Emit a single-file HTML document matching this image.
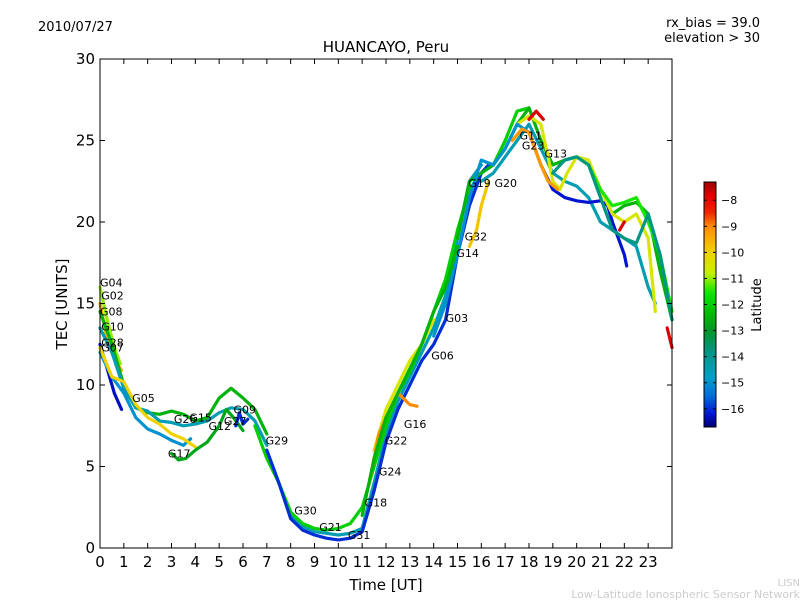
<!DOCTYPE html>
<html><head><meta charset="utf-8"><style>
body{margin:0;background:#fff;}
svg{display:block;font-family:"DejaVu Sans","Liberation Sans",sans-serif;}
</style></head><body>
<svg id="c" width="800" height="600" viewBox="0 0 800 600">
<rect width="800" height="600" fill="#fff"/>
<text x="38" y="31" font-size="13">2010/07/27</text>
<text x="760" y="27" font-size="13" text-anchor="end">rx_bias = 39.0</text>
<text x="760" y="42" font-size="13" text-anchor="end">elevation &gt; 30</text>
<text x="386" y="52" font-size="15" text-anchor="middle">HUANCAYO, Peru</text>
<g id="plot"></g>
<rect x="100" y="59" width="572" height="489" fill="none" stroke="#000" stroke-width="1"/>
<g id="axes"></g>
<text x="386" y="590" font-size="15" text-anchor="middle">Time [UT]</text>
<text x="67" y="304" font-size="15" text-anchor="middle" transform="rotate(-90 67 304)">TEC [UNITS]</text>
<g id="cbar"></g>
<text x="761" y="305" font-size="13" text-anchor="middle" transform="rotate(-90 761 305)">Latitude</text>
<text x="800" y="586" font-size="10" fill="#ccc" text-anchor="end">LISN</text>
<text x="800" y="598" font-size="11" fill="#ccc" text-anchor="end">Low-Latitude Ionospheric Sensor Network</text>
</svg>
<script>
const xTicks=[0,1,2,3,4,5,6,7,8,9,10,11,12,13,14,15,16,17,18,19,20,21,22,23];
const yTicks=[0,5,10,15,20,25,30];
const cbTicks=[-8,-9,-10,-11,-12,-13,-14,-15,-16];
const trackNames=["G04","G02","G08","G10","G07","G28","Y1","G17","A","B","C","D","D2","E","F","G","H","I","J1","J2","J3","K","G09b","L","M","N","O"];
const trackLats=[-11,-9.5,-12.5,-14.5,-16.3,-15,-10,-12.7,-14.5,-12,-16,-10.5,-9.8,-9,-12.5,-14.5,-16.2,-10.5,-7.8,-7.8,-7.8,-11.5,-16,-15,-12.5,-13.8,-9.2];
const trackTimes=[
[0,0.3,0.6,0.85],
[0,0.3,0.6,0.9],
[0,0.5,1,1.5,2,2.5,3,3.5,4,4.5,5,5.5,6,6.5,7],
[0,0.5,1,1.5,2,2.5,3,3.5,4,4.5,5,5.5,6,6.5,7],
[0,0.3,0.6,0.9],
[0,0.5,1,1.5,2,2.5,3,3.5,3.8],
[0,0.5,1,1.5,2,2.5,3,3.5,4],
[3,3.3,3.6,4,4.5,5,5.3,5.6,6],
[7,7.5,8,8.5,9,9.5,10,10.5,11,11.5,12,12.5,13,13.5,14,14.5,15,15.5,16],
[6.5,7,7.5,8,8.5,9,9.5,10,10.5,11,11.5,12,12.5,13,13.5,14,14.5,15,15.5,16,16.5,17,17.5,18],
[7,7.5,8,8.5,9,9.5,10,10.5,11,11.5,12,12.5,13,13.5,14,14.5,15,15.5,16,16.3],
[11.5,12,12.5,13,13.5,14],
[15.5,15.8,16,16.3],
[11.3,11.7,12,12.5,13,13.3],
[15,15.5,16,16.5,17,17.5,18,18.5,19,19.5,20,20.5,21,21.5,22,22.5,23,23.5,24],
[16,16.5,17,17.5,18,18.5,19,19.5,20,20.5,21,21.5,22,22.5,23,23.3],
[18,18.5,19,19.5,20,20.5,21,21.3,21.5,22,22.1],
[17.5,18,18.5,18.8,19,19.3,19.6,20,20.5,21,21.5,22,22.5,23,23.3],
[18,18.3,18.6],
[23.8,24],
[21.8,22],
[20.5,21,21.5,22,22.5,23,23.5,24],
[5.7,5.85,6,6.2],
[14,14.5,15,15.5,16,16.5,17,17.5,18],
[11,11.5,12,12.5,13,13.5,14,14.5,15],
[19,19.5,20,20.5,21,21.5,22,22.5,23,23.5,24],
[17.3,17.7,18,18.5,18.8,19.2]
];
const trackTec=[
[16,14,12.3,11.3],
[15,12.8,11.6,10.9],
[14.5,12.5,10,8.6,8.3,8.2,8.4,8.2,7.8,8,9.2,9.8,9.2,8.5,7],
[13.5,12,9.8,8.6,8.4,7.8,7.7,7.5,7.6,7.8,8.3,8.6,8.5,7.8,6.3],
[12.5,11,9.5,8.5],
[12,10.5,9.5,8,7.3,7,6.6,6.3,6.7],
[12.3,10.5,10.2,8.8,8,7.6,7,6.7,6.2],
[5.8,5.4,5.5,6,6.5,7.5,8.5,8,7.2],
[6,4,2,1.3,1,0.9,0.8,0.9,1.2,4,7,9,10.5,12,13.5,15.5,19,22.5,23.5],
[7.5,5.5,4,2.2,1.5,1.2,1.1,1.2,1.5,2.5,5,7.5,9.5,10.8,12.5,14.5,16.5,19.5,22,23,23.5,25,26.8,27],
[6,4,1.8,1.1,0.8,0.6,0.5,0.6,1,3.5,6.5,8.5,10,11.5,12.5,14,18,21,23,23.5],
[6,8.5,10,11.5,12.5,14],
[18.5,19.5,21,22.5],
[4,7,8,9.5,8.8,8.7],
[19,22.5,23,23.5,24.5,26,27,25,23.5,23.8,24,23.5,22,20.5,21,21.2,20.5,17,14],
[22.5,23,24,25,26,24.5,23,22.5,22.2,21.5,20,19.5,19,18.5,16,15],
[25.5,23.5,22,21.5,21.3,21.2,21.3,21,20,18,17.3],
[26,26.5,26,24,22.5,22,23,24,23.8,22,20.5,20,20.5,19,14.5],
[26.3,26.8,26.3],
[13.5,12.3],
[19.5,20],
[23.5,22,21,21.2,21.5,20,18,14.5],
[7.5,8.3,7.6,7.9],
[13,15,18,21.5,23.8,23.5,24.5,26,25.5],
[2,5.5,8,9.5,11,12.5,14.5,16,18.5],
[23,23.8,24,23.5,21.5,19.5,19,18.7,20.5,18,14],
[25,25.7,25.5,23.5,22.5,22]
];
const labelNames=["G04","G02","G08","G10","G28","G07","G05","G26","G15","G12","G27","G09","G29","G17","G30","G21","G31","G18","G24","G22","G16","G06","G03","G14","G32","G19","G20","G11","G23","G13"];
const labelT=[0,0.05,0,0.05,0.05,0.05,1.35,3.1,3.75,4.55,5.2,5.6,6.95,2.85,8.15,9.2,10.4,11.1,11.7,11.95,12.75,13.9,14.5,14.95,15.3,15.45,16.55,17.6,17.7,18.65];
const labelTec=[16.3,15.5,14.5,13.6,12.6,12.3,9.2,7.9,8.0,7.5,7.8,8.5,6.6,5.8,2.3,1.3,0.8,2.8,4.7,6.6,7.6,11.8,14.1,18.1,19.1,22.4,22.4,25.3,24.7,24.2];

const ns="http://www.w3.org/2000/svg";
const X0=100,X1=672,Y0=548,Y1=59;
function xs(t){return X0+(X1-X0)*t/24;}
function ys(v){return Y0-(Y0-Y1)*v/30;}
const CBT=182,CBB=427,CBmin=-16.7,CBmax=-7.3;
function cys(l){return CBB-(CBB-CBT)*(l-CBmin)/(CBmax-CBmin);}
const cmapStops=[[-16.7,0,0,120],[-16.2,0,20,210],[-15.5,0,110,220],[-14.8,0,160,200],[-13.8,0,150,130],[-13,0,150,40],[-12.3,0,190,0],[-11.6,0,230,0],[-10.8,200,240,0],[-10,240,210,0],[-9,255,140,0],[-8.5,240,40,0],[-7.8,220,0,0],[-7.3,160,0,0]];
function jet(l){l=Math.max(CBmin,Math.min(CBmax,l));
 for(let i=0;i<cmapStops.length-1;i++){const a=cmapStops[i],b=cmapStops[i+1];
  if(l<=b[0]){const f=(l-a[0])/(b[0]-a[0]);const c=k=>Math.round(a[k]+(b[k]-a[k])*f);return `rgb(${c(1)},${c(2)},${c(3)})`;}}
 return 'rgb(160,0,0)';}
function mk(tag,attrs,parent){const e=document.createElementNS(ns,tag);for(const k in attrs)e.setAttribute(k,attrs[k]);parent.appendChild(e);return e;}
const plot=document.getElementById('plot');
trackTimes.forEach((tt,i)=>{
 const pts=tt.map((t,j)=>xs(t).toFixed(1)+','+ys(trackTec[i][j]).toFixed(1)).join(' ');
 const p=mk('polyline',{points:pts,fill:'none',stroke:jet(trackLats[i]),'stroke-width':3.2,'stroke-linejoin':'round','stroke-linecap':'round'},plot);
 
 
});
labelNames.forEach((n,i)=>{
 const t=mk('text',{x:xs(labelT[i]),y:ys(labelTec[i])+4,'font-size':11},plot);
 t.textContent=n;
 
 
});
const axes=document.getElementById('axes');
xTicks.forEach(v=>{
 const x=xs(v);
 const l=mk('line',{x1:x,x2:x,y1:Y0,y2:Y0-5,stroke:'#000'},axes);
 
 
 mk('line',{x1:x,x2:x,y1:Y1,y2:Y1+5,stroke:'#000'},axes);
 const t=mk('text',{x:x,y:567,'font-size':15,'text-anchor':'middle'},axes);t.textContent=v;
 
 
});
yTicks.forEach(v=>{
 const y=ys(v);
 const l=mk('line',{x1:X0,x2:X0+5,y1:y,y2:y,stroke:'#000'},axes);
 
 
 mk('line',{x1:X1,x2:X1-5,y1:y,y2:y,stroke:'#000'},axes);
 const t=mk('text',{x:95,y:y+5,'font-size':15,'text-anchor':'end'},axes);t.textContent=v;
 
 
});
const cb=document.getElementById('cbar');
const defs=mk('defs',{},cb);
const g=mk('linearGradient',{id:'jg',x1:0,y1:1,x2:0,y2:0},defs);
for(let k=0;k<=40;k++){const l=CBmin+(CBmax-CBmin)*k/40;mk('stop',{offset:k/40,'stop-color':jet(l)},g);}
const r=mk('rect',{x:704,y:CBT,width:12,height:CBB-CBT,fill:'url(#jg)',stroke:'#000','stroke-width':1},cb);


cbTicks.forEach(v=>{
 const y=cys(v);
 mk('line',{x1:704,x2:707,y1:y,y2:y,stroke:'#000'},cb);
 mk('line',{x1:716,x2:713,y1:y,y2:y,stroke:'#000'},cb);
 const t=mk('text',{x:721,y:y+4,'font-size':11},cb);t.textContent='\u2212'+Math.abs(v);
 
 
});
</script>
</body></html>
